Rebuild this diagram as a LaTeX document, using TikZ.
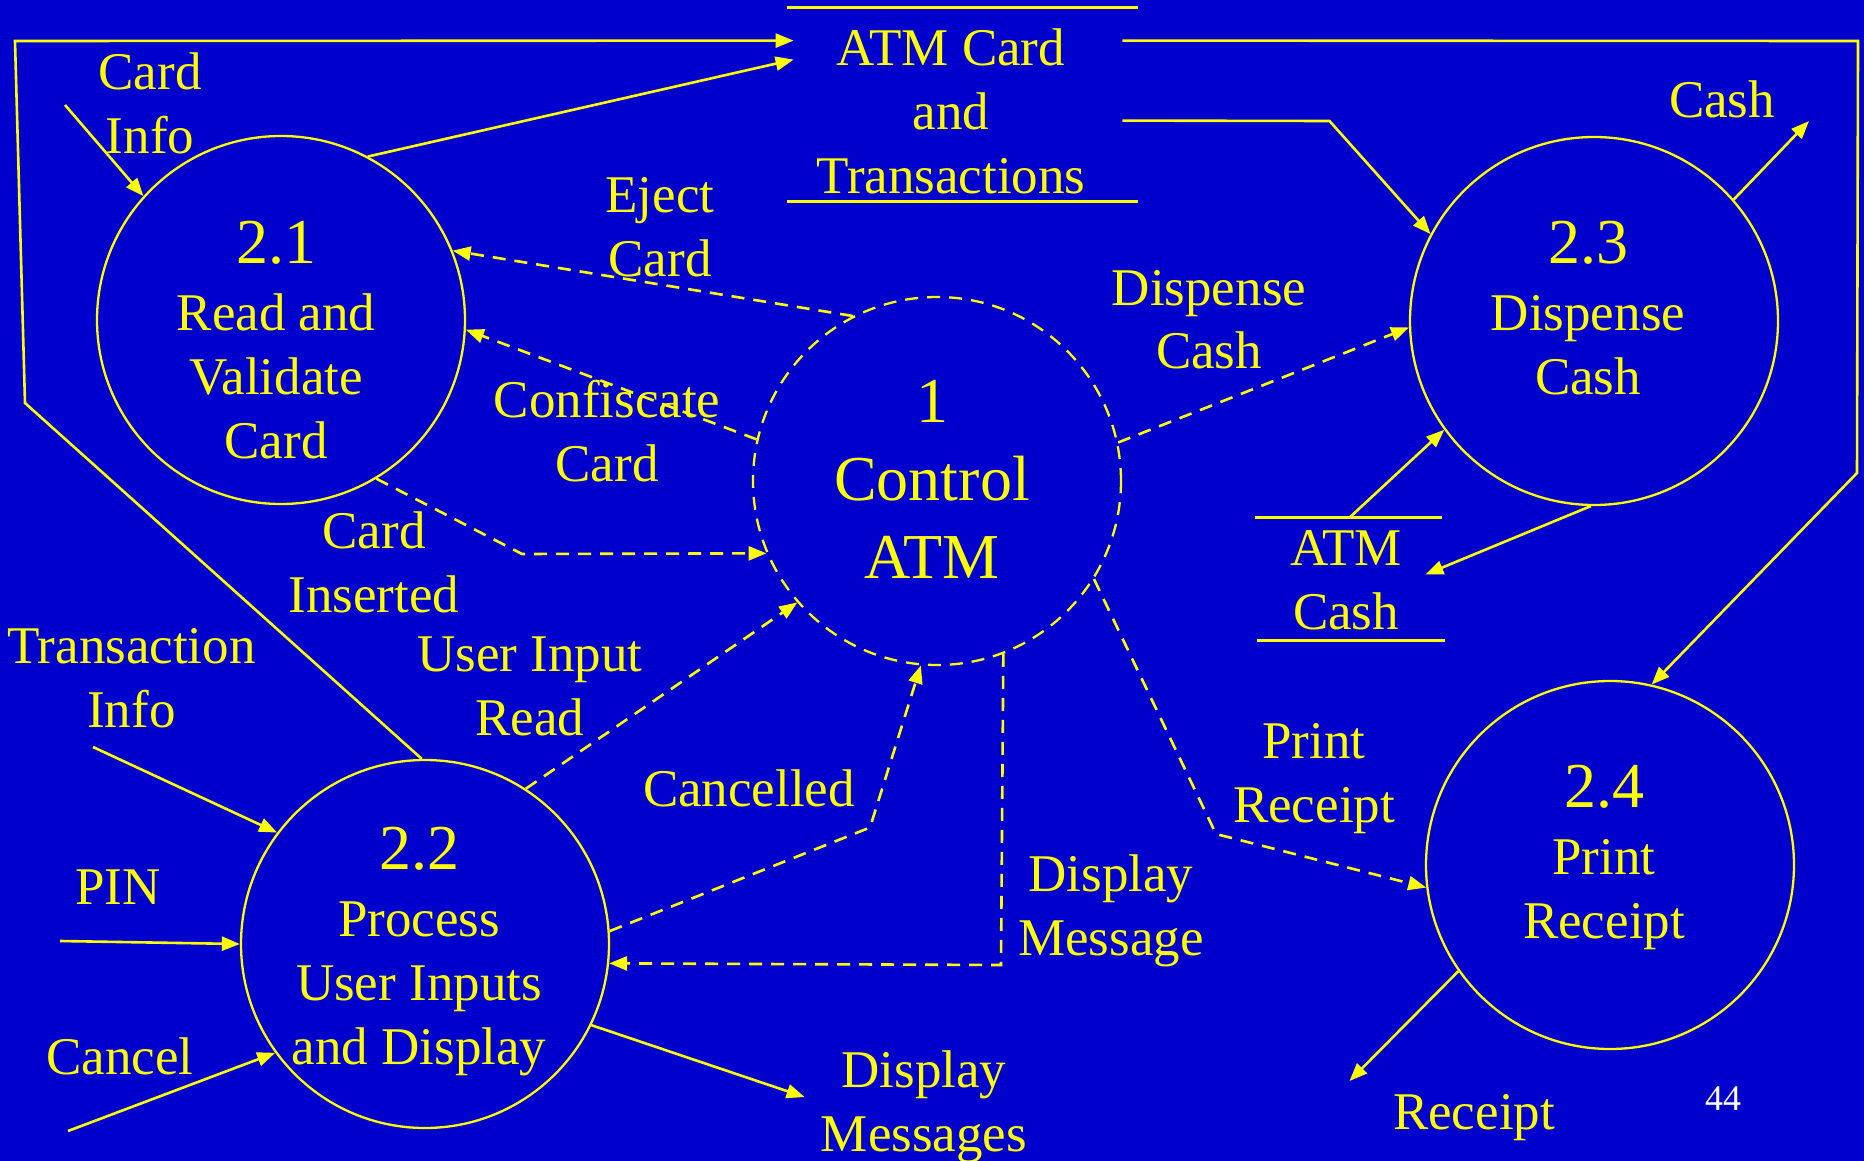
\documentclass[tikz,border=0pt]{standalone}
\usepackage{fontspec}
\setmainfont{Liberation Serif}
\usetikzlibrary{arrows.meta,calc}
\definecolor{bg}{HTML}{0000CC}
\definecolor{fg}{HTML}{FFFF00}
\newcommand{\mylines}[1]{\begin{tabular}[t]{@{}c@{}}#1\end{tabular}}
\begin{document}
\begin{tikzpicture}[x=0.5pt,y=-0.5pt,
  lbl/.style={text=fg, font=\fontsize{26.5}{32}\selectfont, anchor=base, inner sep=0pt},
  num/.style={text=fg, font=\fontsize{32}{39}\selectfont, anchor=base, inner sep=0pt},
  proc/.style={circle, draw=fg, line width=1.15pt, minimum size=184pt, inner sep=0pt},
  store/.style={inner sep=0pt},
  flow/.style={draw=fg, line width=1.3pt, -{Triangle[length=9pt,width=7pt]}},
  cflow/.style={flow, dash pattern=on 6.5pt off 4.5pt},
  plain/.style={draw=fg, line width=1.3pt},
]
\fill[bg] (0,0) rectangle (1864,1161);
\useasboundingbox (0,0) rectangle (1864,1161);

% processes
\node[proc] (p21) at (281,320) {};
\node[proc, dash pattern=on 6.5pt off 4.5pt] (ctl) at (937,481) {};
\node[proc] (p22) at (425,944) {};
\node[proc] (p23) at (1594,321) {};
\node[proc] (p24) at (1610,865) {};

% data stores
\node[store, minimum width=164pt, minimum height=96.5pt] (ats) at (958,104.5) {};
\draw[plain] ($(ats.north west)+(-7,0)$) -- ($(ats.north east)+(16,0)$);
\draw[plain] ($(ats.south west)+(-7,0)$) -- ($(ats.south east)+(16,0)$);
\node[store, minimum width=93.5pt, minimum height=61pt] (acs) at (1349.5,579) {};
\draw[plain] ($(acs.north west)+(-1,0)$) -- ($(acs.north east)+(-1,0)$);
\draw[plain] ($(acs.south west)+(1,0)$) -- ($(acs.south east)+(2,0)$);

% free ends and bends
\coordinate (ci) at (65,105);
\coordinate (b1) at (25,403);
\coordinate (b2) at (15,41);
\coordinate (c1) at (522,554);
\coordinate (c2) at (870,827.5);
\coordinate (c3) at (1001,965);
\coordinate (c4) at (1216,834);
\coordinate (s1) at (1329.5,121);
\coordinate (s2) at (1858,41);
\coordinate (s3) at (1857,473);
\coordinate (cash) at (1809,121);
\coordinate (rc) at (1349.5,1081);
\coordinate (ti) at (93,747);
\coordinate (pin) at (60,941);
\coordinate (cn) at (68,1131);
\coordinate (dm) at (804.6,1097);

% solid flows
\draw[flow] (ci) -- (p21.138.3);
\draw[flow] (p22.91.8) -- (b1) -- (b2) -- ($(ats.north west)+(0,33)$);
\draw[flow] (p21.62) -- ($(ats.north west)+(0,52)$);
\draw[flow] ($(ats.north east)+(0,113)$) -- (s1) -- (p23.152.4);
\draw[flow] ($(ats.north east)+(0,33)$) -- (s2) -- (s3) -- (p24.77.6);
\draw[flow] (p23.41.5) -- (cash);
\draw[flow] (acs.north) -- (p23.216.1);
\draw[flow] (p23.269.4) -- ($(acs.east)+(-18,-4.5)$);
\draw[flow] (p24.215.1) -- (rc);
\draw[flow] (ti) -- (p22.143.1);
\draw[flow] (pin) -- (p22.180);
\draw[flow] (cn) -- (p22.216.1);
\draw[flow] (p22.-26.7) -- (dm);

% control flows
\draw[cflow] (ctl.117.2) -- (p21.22.9);
\draw[cflow] (ctl.167) -- (p21.-3.1);
\draw[cflow] (p21.-59.6) -- (c1) -- (ctl.203.4);
\draw[cflow] (p22.57.3) -- (ctl.221.2);
\draw[cflow] (p22.4.35) -- (c2) -- (ctl.265.5);
\draw[cflow] (ctl.-69.6) -- (c3) -- (p22.-6.5);
\draw[cflow] (ctl.-32.5) -- (c4) -- (p24.187.7);
\draw[cflow] (ctl.12.4) -- (p23.182.2);

% process texts
\node[num] (t21n) at (276,263) {2.1};
\node[lbl] (t21) at (276,330) {\mylines{Read and\\Validate\\Card}};
\node[num] (t22n) at (419,869) {2.2};
\node[lbl] (t22) at (419,936) {\mylines{Process\\User Inputs\\and Display}};
\node[num] (t23n) at (1588,263) {2.3};
\node[lbl] (t23) at (1588,330) {\mylines{Dispense\\Cash}};
\node[num] (t24n) at (1604,807) {2.4};
\node[lbl] (t24) at (1604,874) {\mylines{Print\\Receipt}};
\node[num] (tctl) at (932,422) {\mylines{1\\Control\\ATM}};

% store texts
\node[lbl] (lats) at (951,66) {\mylines{ATM Card\\and\\Transactions}};
\node[lbl] (lac) at (1346,565) {\mylines{ATM\\Cash}};

% flow labels
\node[lbl] (lci) at (150,90) {\mylines{Card\\Info}};
\node[lbl] (lej) at (660,213) {\mylines{Eject\\Card}};
\node[lbl] (lcf) at (607,417) {\mylines{Confiscate\\Card}};
\node[lbl] (lcin) at (374,548) {\mylines{Card\\Inserted}};
\node[lbl] (lui) at (530,671) {\mylines{User Input\\Read}};
\node[lbl] (lcl) at (749,806) {Cancelled};
\node[lbl] (lti) at (131.5,663) {\mylines{Transaction\\Info}};
\node[lbl] (lpin) at (118,904) {PIN};
\node[lbl] (lcn) at (120,1074.6) {Cancel};
\node[lbl] (ldms) at (924,1087.6) {\mylines{Display\\Messages}};
\node[lbl] (ldm) at (1111,891) {\mylines{Display\\Message}};
\node[lbl] (lpr) at (1314,758) {\mylines{Print\\Receipt}};
\node[lbl] (ldc) at (1209,305) {\mylines{Dispense\\Cash}};
\node[lbl] (lcash) at (1722,118) {Cash};
\node[lbl] (lrc) at (1474,1129) {Receipt};
\node[lbl, text=white, font=\fontsize{18}{22}\selectfont] (pg) at (1723,1110) {44};
\end{tikzpicture}
\end{document}
